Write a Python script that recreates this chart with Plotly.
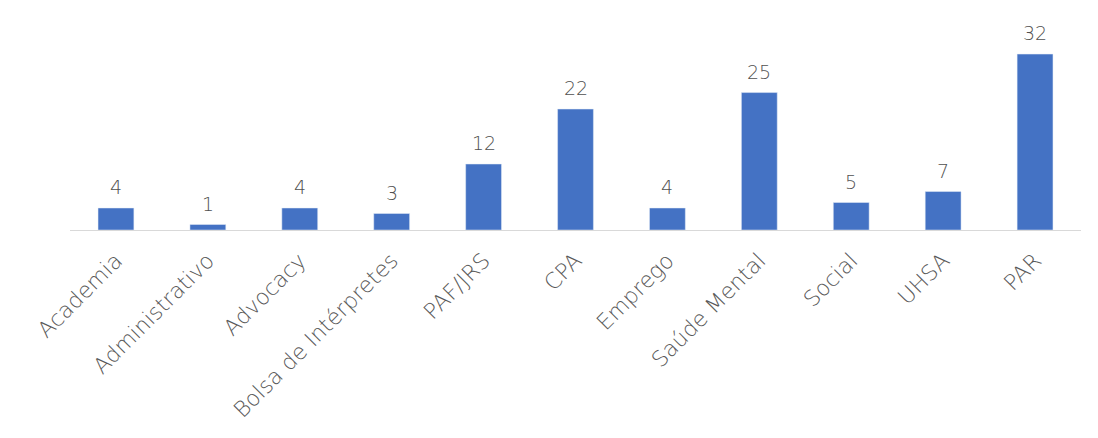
import plotly.graph_objects as go

categories = ["Academia", "Administrativo", "Advocacy", "Bolsa de Intérpretes", "PAF/JRS",
              "CPA", "Emprego", "Saúde Mental", "Social", "UHSA", "PAR"]
values = [4, 1, 4, 3, 12, 22, 4, 25, 5, 7, 32]

FONT = "DejaVu Sans"

fig = go.Figure(go.Bar(
    x=categories, y=values,
    marker=dict(color="#4472C4"),
    hoverinfo="x+y",
))

for c, v in zip(categories, values):
    fig.add_annotation(
        x=c, y=v, text=str(v), showarrow=False,
        yanchor="bottom", yshift=8,
        font=dict(family=FONT, size=19, color="#505050", weight=200),
    )

fig.update_layout(
    width=1098, height=438,
    margin=dict(l=62, r=25, t=12, b=216),
    paper_bgcolor="white", plot_bgcolor="white",
    bargap=0.61,
    showlegend=False,
    xaxis=dict(
        tickangle=-45,
        automargin=False,
        tickfont=dict(family=FONT, size=22, color="#595959", weight=200),
        ticklabelstandoff=8,
        showline=True, linecolor="#d9d9d9", linewidth=1,
        showgrid=False, ticks="",
    ),
    yaxis=dict(visible=False, range=[0, 38.2], showgrid=False, zeroline=False, automargin=False),
)

fig.write_html("out.html")
